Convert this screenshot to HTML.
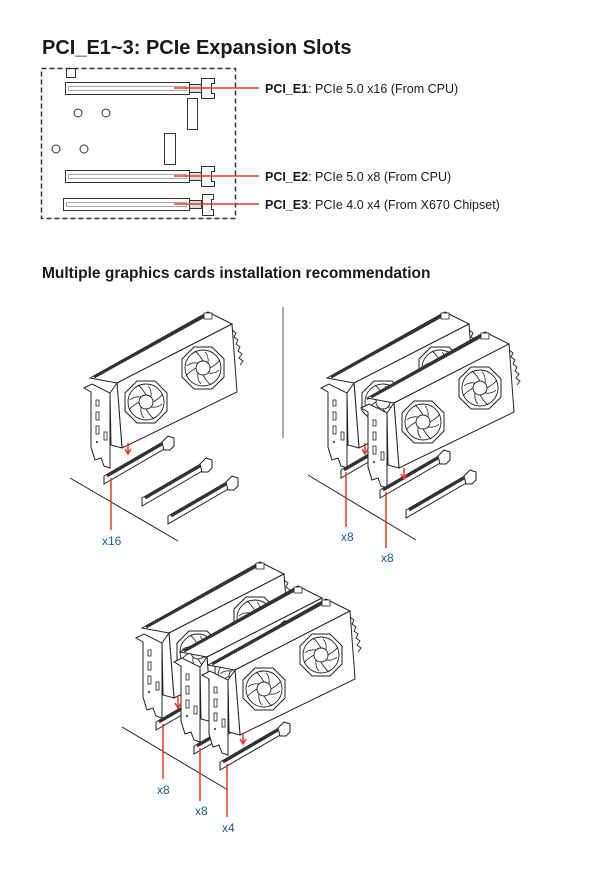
<!DOCTYPE html>
<html><head><meta charset="utf-8"><style>
html,body{margin:0;padding:0;background:#fff;}
body{width:608px;height:874px;overflow:hidden;position:relative;font-family:"Liberation Sans",sans-serif;}
</style></head><body>
<svg width="608" height="874" viewBox="0 0 608 874" xmlns="http://www.w3.org/2000/svg" style="position:absolute;left:0;top:0">
<defs>
 <g id="fan">
  <polygon points="-9,-21 9,-21 21,-9 21,9 9,21 -9,21 -21,9 -21,-9" fill="#fff" stroke="#222" stroke-width="1"/>
  <circle r="18" fill="none" stroke="#222" stroke-width="0.9"/>
  <circle r="7" fill="#fff" stroke="#222" stroke-width="0.9"/>
  <g fill="none" stroke="#222" stroke-width="0.8">
   <path d="M7,0 Q14,-4 17,-8"/><path d="M0,7 Q4,14 8,17"/><path d="M-7,0 Q-14,4 -17,8"/><path d="M0,-7 Q-4,-14 -8,-17"/>
   <path d="M5,5 Q12,6 16,2"/><path d="M-5,5 Q-6,12 -2,16"/><path d="M-5,-5 Q-12,-6 -16,-2"/><path d="M5,-5 Q6,-12 2,-16"/>
  </g>
 </g>
 <g id="card">
  <polygon points="90,378 208,312 232,324 117,383" fill="#fff" stroke="#222" stroke-width="1"/>
  <line x1="94" y1="377" x2="208" y2="314" stroke="#333" stroke-width="3"/>
  <polygon points="117,383 232,324 237,392 122,448" fill="#fff" stroke="#222" stroke-width="1"/>
  <polygon points="110,393 117,383 122,448 111,445" fill="#fff" stroke="#222" stroke-width="1"/>
  <rect x="204" y="313" width="8" height="6" fill="#fff" stroke="#222" stroke-width="0.8"/>
  <path d="M232,330 l4,3 -2,4 4,3 -2,4 4,3 -2,4 4,3 -3,4 4,3 -3,4" fill="none" stroke="#222" stroke-width="0.9"/>
  <use href="#fan" x="146" y="402"/>
  <use href="#fan" x="203" y="368"/>
  <polygon points="84,388 92,384 110,393 110,468 104,466 101,458 95,460 91,447 91,392" fill="#fff" stroke="#222" stroke-width="1"/>
  <rect x="96" y="400" width="3" height="6" fill="none" stroke="#222" stroke-width="0.8"/>
  <rect x="96" y="412" width="3" height="8" fill="none" stroke="#222" stroke-width="0.8"/>
  <rect x="96" y="426" width="3" height="8" fill="none" stroke="#222" stroke-width="0.8"/>
  <rect x="104" y="432" width="3" height="8" fill="none" stroke="#222" stroke-width="0.8"/>
  <circle cx="97" cy="442" r="1" fill="#222"/>
 </g>
 <g id="slot">
  <polygon points="0,0 62,-36 62,-28 0,8" fill="#fff" stroke="#222" stroke-width="1"/>
  <line x1="3" y1="0" x2="58" y2="-32" stroke="#333" stroke-width="3"/>
  <path d="M58,-34 l6,-6 6,2 0,8 -4,4 -6,0 z" fill="#fff" stroke="#222" stroke-width="1"/>
 </g>
</defs>

<text x="42" y="54" font-size="20" font-weight="bold" fill="#1a1a1a">PCI_E1~3: PCIe Expansion Slots</text>
<rect x="41.5" y="68.5" width="194" height="150" fill="none" stroke="#333" stroke-width="1.5" stroke-dasharray="5,3"/>
<g fill="none" stroke="#333" stroke-width="1">
 <rect x="66.5" y="68.5" width="9" height="9"/>
 <rect x="65.5" y="82.5" width="124" height="12"/><rect x="68.5" y="86.5" width="118" height="4" stroke="#aaa"/>
 <rect x="189.5" y="84.5" width="12" height="8" fill="#ddd"/><path d="M201.5,78.5 h13 v5 h-3 v10 h3 v5 h-13 z"/>
 <rect x="65.5" y="170.5" width="124" height="12"/><rect x="68.5" y="174.5" width="118" height="4" stroke="#aaa"/>
 <rect x="189.5" y="172.5" width="12" height="8" fill="#ddd"/><path d="M201.5,166.5 h13 v5 h-3 v10 h3 v5 h-13 z"/>
 <rect x="63.5" y="198.5" width="126" height="12"/><rect x="66.5" y="202.5" width="120" height="4" stroke="#aaa"/>
 <rect x="189.5" y="200.5" width="12" height="8" fill="#ddd"/><path d="M202.5,194.5 h11 v5 h-2 v10 h2 v6 h-11 z"/>
 <rect x="187.5" y="98.5" width="10" height="31"/>
 <rect x="164.5" y="133.5" width="11" height="31"/>
 <circle cx="78" cy="113" r="4"/><circle cx="106" cy="113" r="4"/>
 <circle cx="56" cy="149" r="4"/><circle cx="84" cy="149" r="4"/>
</g>
<g stroke="#e8392a" stroke-width="1.5">
 <line x1="174" y1="88" x2="259" y2="88"/><line x1="174" y1="176" x2="259" y2="176"/><line x1="174" y1="204" x2="259" y2="204"/>
</g>
<g font-size="12.5" fill="#1a1a1a">
 <text x="265" y="93"><tspan font-weight="bold">PCI_E1</tspan>: PCIe 5.0 x16 (From CPU)</text>
 <text x="265" y="181"><tspan font-weight="bold">PCI_E2</tspan>: PCIe 5.0 x8 (From CPU)</text>
 <text x="265" y="209"><tspan font-weight="bold">PCI_E3</tspan>: PCIe 4.0 x4 (From X670 Chipset)</text>
</g>
<text x="42" y="278" font-size="15.5" font-weight="bold" fill="#1a1a1a">Multiple graphics cards installation recommendation</text>
<line x1="283" y1="307" x2="283" y2="438" stroke="#555" stroke-width="1"/>

<!-- panel 1 -->
<line x1="70" y1="478" x2="178" y2="541" stroke="#222" stroke-width="1"/>
<use href="#card"/>
<use href="#slot" x="104" y="476"/>
<use href="#slot" x="142" y="498"/>
<use href="#slot" x="168" y="516"/>
<path d="M128,443 v10 m-3,-4 l3,5 3,-5" stroke="#e8392a" stroke-width="1.5" fill="none"/>
<line x1="111" y1="478" x2="111" y2="530" stroke="#e8392a" stroke-width="1.5"/>
<text x="102" y="545" font-size="12" fill="#235a96">x16</text>

<!-- panel 2 -->
<line x1="308" y1="475" x2="416" y2="540" stroke="#222" stroke-width="1"/>
<use href="#card" x="237" y="0"/>
<use href="#slot" x="341" y="470"/>
<use href="#card" x="277" y="20"/>
<use href="#slot" x="380" y="490"/>
<use href="#slot" x="406" y="510"/>
<path d="M365,443 v10 m-3,-4 l3,5 3,-5" stroke="#e8392a" stroke-width="1.5" fill="none"/>
<path d="M404,468 v10 m-3,-4 l3,5 3,-5" stroke="#e8392a" stroke-width="1.5" fill="none"/>
<line x1="346" y1="472" x2="346" y2="527" stroke="#e8392a" stroke-width="1.5"/>
<line x1="386" y1="492" x2="386" y2="548" stroke="#e8392a" stroke-width="1.5"/>
<text x="341" y="541" font-size="12" fill="#235a96">x8</text>
<text x="381" y="562" font-size="12" fill="#235a96">x8</text>

<!-- panel 3 -->
<line x1="122" y1="727" x2="228" y2="790" stroke="#222" stroke-width="1"/>
<use href="#card" x="52" y="250"/>
<use href="#slot" x="156" y="722"/>
<use href="#card" x="90" y="274"/>
<use href="#slot" x="194" y="746"/>
<use href="#card" x="118" y="287"/>
<use href="#slot" x="220" y="762"/>
<path d="M178,697 v10 m-3,-4 l3,5 3,-5" stroke="#e8392a" stroke-width="1.5" fill="none"/>
<path d="M243,733 v10 m-3,-4 l3,5 3,-5" stroke="#e8392a" stroke-width="1.5" fill="none"/>
<line x1="163" y1="724" x2="163" y2="779" stroke="#e8392a" stroke-width="1.5"/>
<line x1="200" y1="748" x2="200" y2="801" stroke="#e8392a" stroke-width="1.5"/>
<line x1="227" y1="764" x2="227" y2="817" stroke="#e8392a" stroke-width="1.5"/>
<text x="157" y="794" font-size="12" fill="#235a96">x8</text>
<text x="195" y="815" font-size="12" fill="#235a96">x8</text>
<text x="222" y="832" font-size="12" fill="#235a96">x4</text>
</svg>
</body></html>
